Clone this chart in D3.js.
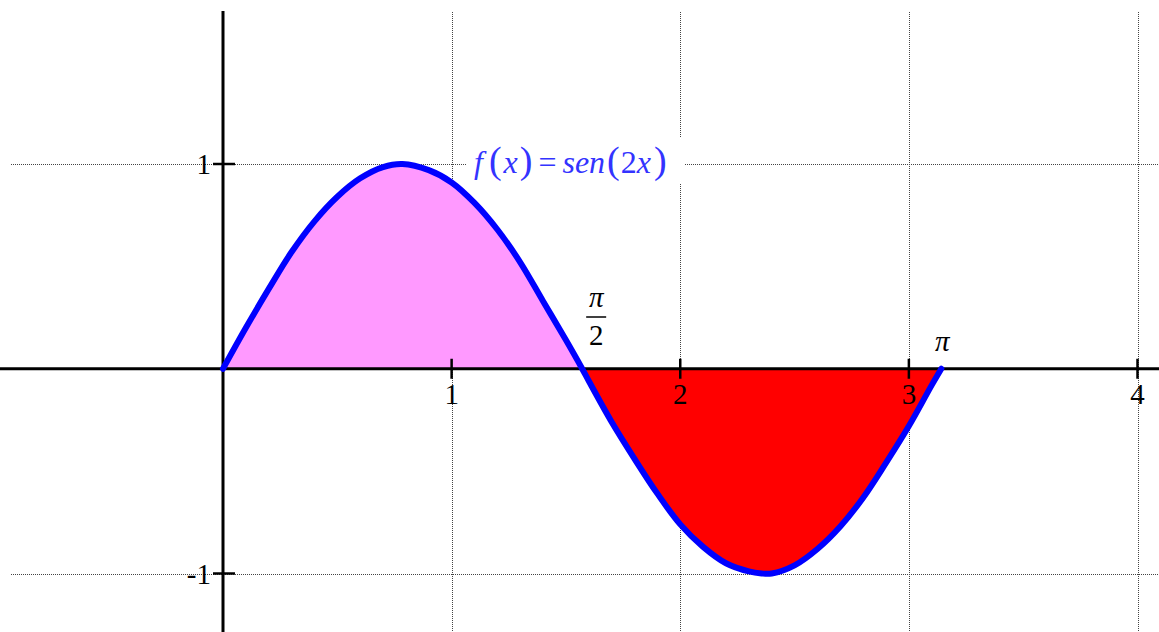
<!DOCTYPE html>
<html lang="en">
<head>
	<meta charset="UTF-8">
	<title>f(x) = sen(2x)</title>
	<script src="https://d3js.org/d3.v7.min.js"></script>
	<style type="text/css">
		body { margin: 0; background: #fff; }
		.grid { stroke: #444; stroke-width: 1; stroke-dasharray: 1,1; }
		.axis { stroke: #000; stroke-width: 3; }
		.tick { stroke: #000; stroke-width: 2.5; }
		.lbl { font-family: "Liberation Serif", "DejaVu Serif", serif; font-size: 29px; fill: #000; }
	</style>
</head>
<body>
<script type="text/javascript">

	// values
	var xs = [0, 0.1, 0.2, 0.3, 0.4, 0.5, 0.6, 0.7, 0.785, 0.9, 1.0, 1.1, 1.2, 1.3, 1.4, 1.5, 1.571,
		1.6, 1.7, 1.8, 1.9, 2.0, 2.1, 2.2, 2.3, 2.356, 2.4, 2.5, 2.6, 2.7, 2.8, 2.9, 3.0, 3.1, 3.142];
	var ys = [0, 0.20, 0.39, 0.57, 0.72, 0.84, 0.93, 0.985, 1.00, 0.97, 0.91, 0.81, 0.68, 0.52, 0.33, 0.14, 0,
		-0.06, -0.26, -0.44, -0.61, -0.76, -0.87, -0.95, -0.99, -1.00, -1.00, -0.96, -0.88, -0.77, -0.63, -0.46, -0.28, -0.08, 0];
	var halfPi = 1.571;
	var xTicks = [1, 2, 3, 4];
	var yTicks = [1, -1];

	window.onload = function () {

		var width = 1159, height = 632;

		var svg = d3.select('body').append('svg')
			.attr('width', width)
			.attr('height', height);

		var data = xs.map(function (x, i) { return {x: x, y: ys[i]}; });

		//scaling
		var x = d3.scaleLinear().domain([0, 4]).range([223, 1137.5]);
		var y = d3.scaleLinear().domain([-1, 1]).range([573.5, 164]);
		var px = function (v) { return Math.round(v) + 0.5; }; // crisp 1px grid

		var curve = d3.curveCatmullRom.alpha(0.5);

		//grid
		svg.selectAll('.gx')
			.data(xTicks)
			.enter().append('line')
			.attr('class', 'grid')
			.attr('x1', function (d) { return px(x(d)); })
			.attr('x2', function (d) { return px(x(d)); })
			.attr('y1', 12)
			.attr('y2', height);

		svg.selectAll('.gy')
			.data(yTicks)
			.enter().append('line')
			.attr('class', 'grid')
			.attr('x1', 11)
			.attr('x2', width)
			.attr('y1', function (d) { return px(y(d)); })
			.attr('y2', function (d) { return px(y(d)); });

		//areas
		var area = d3.area()
			.curve(curve)
			.x(function (d) { return x(d.x); })
			.y0(y(0))
			.y1(function (d) { return y(d.y); });

		svg.append('path')
			.datum(data.filter(function (d) { return d.x <= halfPi; }))
			.attr('d', area)
			.style('fill', '#ff99ff');

		svg.append('path')
			.datum(data.filter(function (d) { return d.x >= halfPi; }))
			.attr('d', area)
			.style('fill', '#ff0000');

		//axes
		svg.append('line').attr('class', 'axis')
			.attr('x1', 0).attr('x2', width)
			.attr('y1', y(0)).attr('y2', y(0));
		svg.append('line').attr('class', 'axis')
			.attr('x1', x(0)).attr('x2', x(0))
			.attr('y1', 11).attr('y2', height);

		svg.selectAll('.tx')
			.data(xTicks)
			.enter().append('line')
			.attr('class', 'tick')
			.attr('x1', function (d) { return x(d); })
			.attr('x2', function (d) { return x(d); })
			.attr('y1', y(0) - 10)
			.attr('y2', y(0) + 10);

		svg.selectAll('.ty')
			.data(yTicks)
			.enter().append('line')
			.attr('class', 'tick')
			.attr('x1', x(0) - 10)
			.attr('x2', x(0) + 12)
			.attr('y1', function (d) { return y(d); })
			.attr('y2', function (d) { return y(d); });

		//curve
		var line = d3.line()
			.curve(curve)
			.x(function (d) { return x(d.x); })
			.y(function (d) { return y(d.y); });

		svg.append('path')
			.datum(data)
			.attr('d', line)
			.style('fill', 'none')
			.style('stroke', '#0000ff')
			.style('stroke-width', 6)
			.style('stroke-linecap', 'round')
			.style('stroke-linejoin', 'round');

		//tick labels
		svg.selectAll('.xl')
			.data(xTicks)
			.enter().append('text')
			.attr('class', 'lbl')
			.attr('x', function (d) { return x(d); })
			.attr('y', y(0) + 35)
			.style('text-anchor', 'middle')
			.text(function (d) { return d; });

		svg.selectAll('.yl')
			.data(yTicks)
			.enter().append('text')
			.attr('class', 'lbl')
			.attr('x', x(0) - 12)
			.attr('y', function (d) { return y(d) + 10; })
			.style('text-anchor', 'end')
			.text(function (d) { return d; });

		//pi labels
		svg.append('text').attr('class', 'lbl')
			.attr('x', x(halfPi) + 14).attr('y', 307)
			.style('text-anchor', 'middle')
			.style('font-style', 'italic')
			.text('π');
		svg.append('line')
			.attr('x1', x(halfPi) + 4).attr('x2', x(halfPi) + 24)
			.attr('y1', 317).attr('y2', 317)
			.style('stroke', '#000').style('stroke-width', 1.5);
		svg.append('text').attr('class', 'lbl')
			.attr('x', x(halfPi) + 14).attr('y', 345)
			.style('text-anchor', 'middle')
			.text('2');

		svg.append('text').attr('class', 'lbl')
			.attr('x', x(3.142) + 1).attr('y', 351)
			.style('text-anchor', 'middle')
			.style('font-style', 'italic')
			.text('π');

		//function label
		svg.append('rect')
			.attr('x', 466).attr('y', 138)
			.attr('width', 218).attr('height', 46)
			.style('fill', '#fff');

		var fl = svg.append('text')
			.attr('x', 474).attr('y', 173)
			.style('font-family', '"Liberation Serif", "DejaVu Serif", serif')
			.style('font-size', '32px')
			.style('fill', '#3333ff');
		fl.append('tspan').style('font-style', 'italic').text('f');
		fl.append('tspan').style('font-size', '38px').attr('dx', 6).text('(');
		fl.append('tspan').attr('dx', 2).style('font-style', 'italic').text('x');
		fl.append('tspan').attr('dx', 2).style('font-size', '38px').text(')');
		fl.append('tspan').attr('dx', 6).text('=');
		fl.append('tspan').attr('dx', 6).style('font-style', 'italic').text('sen');
		fl.append('tspan').attr('dx', 2).style('font-size', '38px').text('(');
		fl.append('tspan').attr('dx', 1).text('2');
		fl.append('tspan').style('font-style', 'italic').text('x');
		fl.append('tspan').attr('dx', 3).style('font-size', '38px').text(')');

	};

</script>
</body>
</html>
